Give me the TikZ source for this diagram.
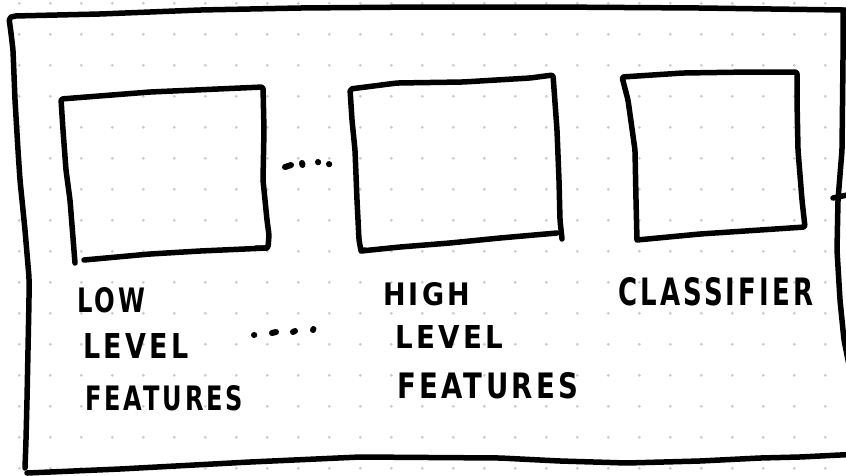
\documentclass[tikz,border=0pt]{standalone}
\usepackage{fontspec}
\setmainfont{DejaVu Sans}[LetterSpace=12]
\usepackage{graphicx}
\definecolor{gridgray}{RGB}{204,204,204}
\begin{document}
\begin{tikzpicture}[x=1pt,y=-1pt,
  ink/.style={line width=5.5pt, line cap=round, line join=round, rounded corners=2pt},
  dotmark/.style={line width=6pt, line cap=round},
  lbl/.style={anchor=base west, inner sep=0pt, font=\bfseries}]
\useasboundingbox (0,0) rectangle (846,475);
\clip (0,0) rectangle (846,475);
\fill[white] (0,0) rectangle (846,475);

% dotted paper
\foreach \i in {0,...,27}
  \foreach \j in {0,...,15}
    \fill[gridgray] ({19.3+31*\i},{3.3+31*\j}) circle (1.6pt);

% outer frame: top and left sides
\draw[ink] (860,11) -- (843,10) -- (700,8) -- (550,7) -- (420,7) -- (300,8)
  -- (200,10) -- (150,12) -- (100,14) -- (14,16) -- (9,18) -- (11,33)
  -- (13,50) -- (15,100) -- (18,150) -- (20,180) -- (25,230) -- (29,277)
  -- (29,300) -- (27,400) -- (26,440) -- (25,468);
% outer frame: right side
\draw[ink] (843,10) -- (843,60) -- (842,150) -- (838,200) -- (837,250)
  -- (840,300) -- (844,340) -- (850,370);
% outer frame: bottom side
\draw[ink] (27,473) -- (120,469) -- (250,462) -- (360,457) -- (500,458)
  -- (560,461) -- (627,463) -- (700,461) -- (760,458) -- (800,457) -- (860,454);
% stub leaving the right side
\draw[ink] (833,198) -- (852,194);

% low level features box
\draw[ink] (75,263) -- (70,200) -- (66,170) -- (63,130) -- (61,99)
  -- (150,92) -- (263,87) -- (264,130) -- (263,180) -- (265,200)
  -- (267,220) -- (269,235) -- (268,248) -- (256,248);
\draw[ink] (84,260) -- (150,254) -- (200,251) -- (267,248);

% high level features box
\draw[ink] (365,250) -- (361,251) -- (359,240) -- (357,200) -- (355,150)
  -- (352,120) -- (350,89) -- (397,83) -- (463,82) -- (530,78) -- (553,75)
  -- (557,130) -- (559,180) -- (560,220) -- (562,239);
\draw[ink] (361,251) -- (400,247) -- (450,243) -- (500,238) -- (557,233);

% classifier box
\draw[ink] (637,240) -- (636,200) -- (635,150) -- (628,100) -- (622,77)
  -- (683,73) -- (750,72) -- (797,72) -- (797,100) -- (798,150)
  -- (802,200) -- (805,227) -- (700,234) -- (637,240);

% ellipses between the stages
\draw[dotmark] (285,167) -- (291,165);
\draw[dotmark] (302,163) -- (302.5,165);
\draw[dotmark] (318,162) -- (318.2,162.3);
\draw[dotmark] (329,164) -- (329.2,164.3);
\draw[dotmark] (254,335) -- (254.3,335);
\draw[dotmark] (272,333) -- (276,332);
\draw[dotmark] (293,332) -- (295,331);
\draw[dotmark] (313,330) -- (313.5,329);

% captions
\node[lbl] (lowA)  at (77,312)  {\resizebox{68pt}{25pt}{LOW}};
\node[lbl] (lowB)  at (83,358)  {\resizebox{105pt}{25pt}{LEVEL}};
\node[lbl] (lowC)  at (85,410)  {\resizebox{158pt}{25pt}{FEATURES}};
\node[lbl] (highA) at (383,305) {\resizebox{87pt}{23pt}{HIGH}};
\node[lbl] (highB) at (395,348) {\resizebox{108pt}{23pt}{LEVEL}};
\node[lbl] (highC) at (397,398) {\resizebox{181pt}{26pt}{FEATURES}};
\node[lbl] (cls)   at (618,305) {\resizebox{195pt}{28pt}{CLASSIFIER}};
\end{tikzpicture}
\end{document}
